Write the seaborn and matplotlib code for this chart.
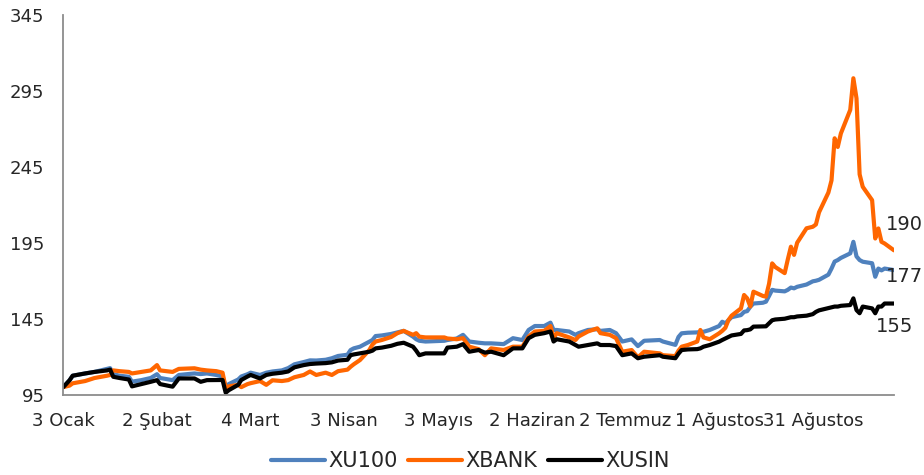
import matplotlib
matplotlib.use("Agg")
import matplotlib.pyplot as plt
import pandas as pd
import seaborn as sns

# Endeksler, 3 Ocak = 100
dates = [
    "2022-01-03", "2022-01-05", "2022-01-06", "2022-01-10", "2022-01-13", "2022-01-17",
    "2022-01-18", "2022-01-19", "2022-01-21", "2022-01-24", "2022-01-25", "2022-01-28",
    "2022-01-31", "2022-02-02", "2022-02-03", "2022-02-07", "2022-02-09", "2022-02-14",
    "2022-02-16", "2022-02-18", "2022-02-21", "2022-02-23", "2022-02-24", "2022-02-25",
    "2022-02-28", "2022-03-01", "2022-03-03", "2022-03-04", "2022-03-07", "2022-03-09",
    "2022-03-11", "2022-03-14", "2022-03-16", "2022-03-18", "2022-03-21", "2022-03-23",
    "2022-03-25", "2022-03-28", "2022-03-30", "2022-04-01", "2022-04-04", "2022-04-05",
    "2022-04-06", "2022-04-08", "2022-04-11", "2022-04-12", "2022-04-13", "2022-04-15",
    "2022-04-18", "2022-04-20", "2022-04-22", "2022-04-25", "2022-04-26", "2022-04-27",
    "2022-04-29", "2022-05-05", "2022-05-06", "2022-05-09", "2022-05-11", "2022-05-13",
    "2022-05-16", "2022-05-18", "2022-05-20", "2022-05-24", "2022-05-27", "2022-05-30",
    "2022-06-01", "2022-06-03", "2022-06-06", "2022-06-08", "2022-06-09", "2022-06-10",
    "2022-06-14", "2022-06-16", "2022-06-17", "2022-06-20", "2022-06-23", "2022-06-24",
    "2022-06-27", "2022-06-29", "2022-07-01", "2022-07-04", "2022-07-06", "2022-07-08",
    "2022-07-13", "2022-07-14", "2022-07-18", "2022-07-19", "2022-07-20", "2022-07-22",
    "2022-07-25", "2022-07-26", "2022-07-27", "2022-07-29", "2022-08-01", "2022-08-02",
    "2022-08-03", "2022-08-04", "2022-08-05", "2022-08-08", "2022-08-09", "2022-08-10",
    "2022-08-11", "2022-08-12", "2022-08-15", "2022-08-16", "2022-08-17", "2022-08-18",
    "2022-08-19", "2022-08-22", "2022-08-23", "2022-08-24", "2022-08-25", "2022-08-26",
    "2022-08-29", "2022-08-31", "2022-09-01", "2022-09-02", "2022-09-05", "2022-09-06",
    "2022-09-07", "2022-09-08", "2022-09-09", "2022-09-12", "2022-09-13", "2022-09-14",
    "2022-09-15", "2022-09-16", "2022-09-19", "2022-09-20", "2022-09-21", "2022-09-22",
    "2022-09-23", "2022-09-26",
]

xu100 = [
    100, 104.5, 107.5, 109, 110, 112,
    112.5, 108.5, 107.5, 106.8, 103.6, 104.6,
    106, 108.5, 106, 104.6, 108, 109,
    108.6, 109, 108, 107, 100.3, 102,
    105, 107, 108.5, 109.5, 108, 109.5,
    110.3, 111, 112.5, 115, 116.5, 117.6,
    117.5, 118, 119, 120.5, 121.3, 124.4,
    125.5, 126.6, 129.9, 131, 133.6, 134,
    135, 136, 137, 133.2, 131.5, 130.5,
    130, 130.5, 131, 132, 134.4, 130,
    129.2, 128.8, 128.8, 128.3, 132.2, 131,
    137.6, 140.2, 140.2, 142.4, 137.6, 137.6,
    136.6, 134.4, 135.5, 137.6, 138.1, 137,
    137.6, 135.5, 130, 131.4, 127, 130.5,
    131, 130, 127.8, 133, 135.4, 135.8,
    136, 136.4, 136.4, 137.6, 140.2, 143,
    142, 144, 146, 147.4, 149.5, 150,
    152.9, 155, 155.5, 156.2, 160, 164,
    163.5, 163, 164, 165.5, 165, 166,
    167.5, 169.6, 170, 170.6, 174, 178,
    182.6, 183.6, 185, 188, 195.6, 186,
    183.6, 182.5, 181.5, 172.6, 178, 176.8,
    178, 177,
]

xbank = [
    100, 101, 102.5, 104, 106, 107.5,
    108, 111, 110.5, 110, 109, 110,
    111, 114.5, 111, 110, 112, 112.4,
    111.5, 111, 110.5, 109.5, 99.5, 100.5,
    101.5, 100, 102, 102.6, 104, 101.5,
    104.5, 104, 104.6, 106.5, 108, 110.3,
    108, 109.5, 108, 110.5, 111.5, 113.4,
    115, 117.8, 124.4, 128, 130, 131,
    133, 135.5, 137, 134.4, 135.5, 133.2,
    132.7, 132.7, 132, 131.5, 132.2, 126.6,
    125, 121, 125.5, 124.4, 126.6, 126.6,
    133.3, 136.6, 137, 140.2, 132.2, 135.5,
    132.7, 131, 133.3, 136.6, 138.7, 135.5,
    134.4, 132.2, 123.3, 124.4, 119.6, 123.3,
    122.2, 121, 120.4, 124, 126.6, 127.7,
    130, 137.6, 132.7, 131.5, 135.4, 137,
    139, 144.1, 147, 151.8, 160.6, 158.4,
    153, 162.8, 160, 159.5, 168, 181.4,
    179, 175, 184, 192.4, 187, 195,
    204.5, 205.5, 207, 215, 228, 236,
    263.7, 258, 266.9, 282.4, 303.2, 290,
    240, 231.8, 223, 197.8, 204.4, 195.6,
    194.5, 190,
]

xusin = [
    100, 104.5, 107.5, 109, 110, 111,
    111.5, 106.8, 106, 105, 100.5, 102,
    103.5, 104.6, 102, 100.3, 105.7, 105.7,
    103.5, 104.6, 104.7, 104.7, 96.3, 98,
    101.5, 104.7, 107, 108, 105.7, 108,
    108.8, 109.5, 110.3, 113, 114.5, 115.2,
    115.5, 115.8, 116.3, 117.5, 118, 121,
    121.5, 122.2, 123.3, 124, 125.5, 126,
    127.2, 128.5, 129.2, 126.6, 124, 121,
    122.2, 122.2, 126, 126.6, 128.3, 123.3,
    124.4, 122.7, 123.3, 121, 125.5, 125.5,
    132.2, 134.4, 135.5, 136.6, 130, 131.5,
    130, 127.7, 126.6, 127.7, 128.8, 127.7,
    127.7, 127, 121, 122.2, 119, 120,
    121, 120, 119, 122, 124.4, 124.8,
    125, 125.5, 126.6, 127.7, 129.9, 131,
    132, 133, 134, 135, 137.3, 137.5,
    138, 139.8, 140, 140, 142, 144,
    144.5, 145, 145.5, 146, 146, 146.5,
    147, 148, 149.5, 150.5, 152, 152.5,
    153, 153, 153.5, 154, 158.4, 150.7,
    148.6, 153, 151.8, 148.6, 153, 153,
    155, 155,
]

series_names = ["XU100", "XBANK", "XUSIN"]
colors = ["#4F81BD", "#FF6600", "#000000"]
end_labels = ["177", "190", "155"]
tick_dates = ["2022-01-03", "2022-02-02", "2022-03-04", "2022-04-03", "2022-05-03",
              "2022-06-02", "2022-07-02", "2022-08-01", "2022-08-31"]
tick_labels = ["3 Ocak", "2 Şubat", "4 Mart", "3 Nisan", "3 Mayıs",
               "2 Haziran", "2 Temmuz", "1 Ağustos", "31 Ağustos"]
y_ticks = [95, 145, 195, 245, 295, 345]

sns.set_style("white")
plt.rcParams["font.family"] = ["DejaVu Sans"]

df = pd.DataFrame({"Tarih": pd.to_datetime(dates), "XU100": xu100, "XBANK": xbank, "XUSIN": xusin})
long_df = df.melt(id_vars="Tarih", var_name="Endeks", value_name="Değer")

fig = plt.figure(figsize=(9.24, 4.75), dpi=100)
ax = fig.add_axes([0.0685, 0.169, 0.899, 0.80])

sns.lineplot(data=long_df, x="Tarih", y="Değer", hue="Endeks", hue_order=series_names,
             palette=colors, linewidth=3, legend=False, ax=ax,
             solid_joinstyle="round", solid_capstyle="round")

ax.set_xlim(pd.Timestamp(dates[0]), pd.Timestamp(dates[-1]))
ax.set_ylim(y_ticks[0], y_ticks[-1])
ax.set_yticks(y_ticks)
ax.set_xticks(pd.to_datetime(tick_dates))
ax.set_xticklabels(tick_labels)
ax.set_xlabel("")
ax.set_ylabel("")

for side in ["top", "right"]:
    ax.spines[side].set_visible(False)
for side in ["left", "bottom"]:
    ax.spines[side].set_color("#8C8C8C")
    ax.spines[side].set_linewidth(1.3)
ax.tick_params(axis="y", length=4.5, width=1.3, color="#8C8C8C", pad=9, labelsize=13)
ax.tick_params(axis="x", length=5, width=1.3, color="#8C8C8C", pad=7.5, labelsize=13)

# son değer etiketleri
last = pd.Timestamp(dates[-1])
offsets = [(-6, 2.5, "top"), (-6, 12, "bottom"), (-13, -10, "top")]
for vals, lab, (dx, dy, va) in zip([xu100, xbank, xusin], end_labels, offsets):
    ax.annotate(lab, xy=(last, vals[-1]), xytext=(dx, dy), textcoords="offset points",
                fontsize=14, ha="left", va=va, annotation_clip=False)

handles = ax.get_lines()[:3]
fig.legend(handles, series_names, loc="center", bbox_to_anchor=(0.509, 14 / 475), ncol=3,
           frameon=False, fontsize=15, handlelength=2.6, handletextpad=0.15, columnspacing=0.5)

fig.savefig("out.png", dpi=100)
